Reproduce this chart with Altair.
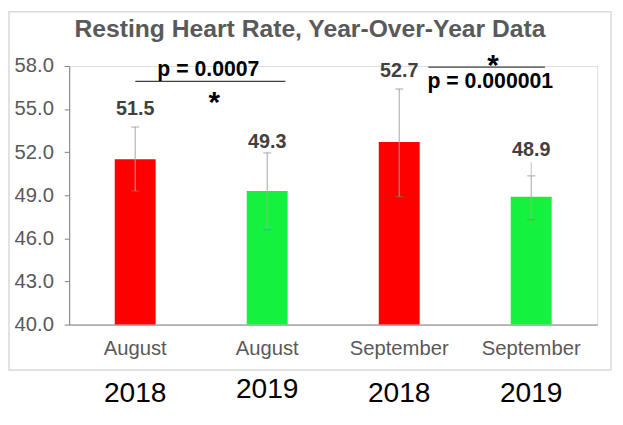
import altair as alt
import pandas as pd

# ---- data ----
categories = ["August 2018", "August 2019", "September 2018", "September 2019"]
months = ["August", "August", "September", "September"]
years = ["2018", "2019", "2018", "2019"]
means = [51.5, 49.3, 52.7, 48.9]
err_low = [49.3, 46.6, 48.9, 47.3]
err_high = [53.75, 51.95, 56.4, 50.35]
bar_colors = ["#FF0000", "#15F13F", "#FF0000", "#15F13F"]
value_label_y = [54.6, 52.3, 57.23, 51.73]
year_label_y = [35.2, 35.5, 35.2, 35.2]
y_ticks = [40, 43, 46, 49, 52, 55, 58]
y_min = 40

# leader line of the "48.9" label
leader_cat = ["September 2019"]
leader_from = [50.35]
leader_to = [51.3]

# significance annotations (x in category units, 0..4)
sig_x_start = [0.501, 2.721]
sig_x_end = [1.637, 3.604]
sig_line_y = [56.93, 57.92]
p_texts = ["p = 0.0007", "p = 0.000001"]
p_x = [1.054, 3.19]
p_y = [57.30, 56.50]
star_x = [1.099, 3.21]
star_y = [54.81, 57.40]

title_text = ["Resting Heart Rate, Year-Over-Year Data"]
title_x = [1.824]
title_y = [60.0]

FONT = "Liberation Sans"

df = pd.DataFrame({
    "cat": categories, "month": months, "year": years, "mean": means,
    "lo": err_low, "hi": err_high, "label_y": value_label_y, "year_y": year_label_y,
})
df_leader = pd.DataFrame({"cat": leader_cat, "a": leader_from, "b": leader_to})
df_sig = pd.DataFrame({"x1": sig_x_start, "x2": sig_x_end, "y": sig_line_y,
                       "ptext": p_texts, "px": p_x, "py": p_y,
                       "sx": star_x, "sy": star_y, "star": ["*", "*"]})
df_title = pd.DataFrame({"t": title_text, "x": title_x, "y": title_y})

yscale = alt.Scale(domain=[40, 58], nice=False, zero=False)
xscale = alt.Scale(domain=categories, paddingInner=0.69, paddingOuter=0.345)

x_axis = alt.Axis(title=None, labelExpr="split(datum.label, ' ')[0]", ticks=False,
                  labelAngle=0, labelFontSize=20.5, labelColor="#595959", labelFont=FONT,
                  labelPadding=14, domainColor="#7f7f7f", domainWidth=1)
x_enc = alt.X("cat:N", sort=categories, scale=xscale, axis=x_axis)
x_enc_plain = alt.X("cat:N", sort=categories, scale=xscale)

y_axis = alt.Axis(title=None, values=y_ticks, format=".1f", grid=False, tickSize=5,
                  tickColor="#7f7f7f", domainColor="#7f7f7f", labelFontSize=20.5,
                  labelColor="#595959", labelFont=FONT, labelPadding=11)

base = alt.Chart(df)

bars = base.mark_bar().encode(
    x=x_enc,
    y=alt.Y("mean:Q", scale=yscale, axis=y_axis),
    y2=alt.Y2(datum=y_min),
    color=alt.Color("cat:N", scale=alt.Scale(domain=categories, range=bar_colors), legend=None),
)
err = base.mark_rule(color="#a6a6a6", strokeWidth=1).encode(
    x=x_enc_plain, y=alt.Y("lo:Q", scale=yscale), y2="hi:Q")
cap_lo = base.mark_tick(color="#808080", thickness=1, size=8).encode(
    x=x_enc_plain, y=alt.Y("lo:Q", scale=yscale))
cap_hi = base.mark_tick(color="#808080", thickness=1, size=8).encode(
    x=x_enc_plain, y=alt.Y("hi:Q", scale=yscale))
vals = base.mark_text(font=FONT, fontSize=20, fontWeight="bold", color="#404040",
                      baseline="alphabetic").encode(
    x=x_enc_plain, y=alt.Y("label_y:Q", scale=yscale), text=alt.Text("mean:Q", format=".1f"))
yrs = base.mark_text(font=FONT, fontSize=28.5, color="#000000", baseline="middle").encode(
    x=x_enc_plain, y=alt.Y("year_y:Q", scale=yscale), text="year:N")
leader = alt.Chart(df_leader).mark_rule(color="#bfbfbf", strokeWidth=1).encode(
    x=x_enc_plain, y=alt.Y("a:Q", scale=yscale), y2="b:Q")

layer_a = alt.layer(bars, err, cap_lo, cap_hi, leader, vals, yrs)

xq = alt.Scale(domain=[0, 4], nice=False, zero=False)
sig = alt.Chart(df_sig)
sig_lines = sig.mark_rule(color="#404040", strokeWidth=1.2).encode(
    x=alt.X("x1:Q", scale=xq, axis=None), x2="x2:Q", y=alt.Y("y:Q", scale=yscale))
sig_p = sig.mark_text(font=FONT, fontSize=21.5, fontWeight="bold", color="#000000",
                      baseline="alphabetic").encode(
    x=alt.X("px:Q", scale=xq, axis=None), y=alt.Y("py:Q", scale=yscale), text="ptext:N")
sig_star = sig.mark_text(font=FONT, fontSize=30, fontWeight="bold", color="#000000",
                         baseline="alphabetic").encode(
    x=alt.X("sx:Q", scale=xq, axis=None), y=alt.Y("sy:Q", scale=yscale), text="star:N")
title = alt.Chart(df_title).mark_text(font=FONT, fontSize=25, fontWeight="bold",
                                      color="#595959", baseline="alphabetic").encode(
    x=alt.X("x:Q", scale=xq, axis=None), y=alt.Y("y:Q", scale=yscale), text="t:N")

border = alt.Chart(pd.DataFrame({"k": [0]})).mark_rect(
    filled=False, stroke="#d9d9d9", strokeWidth=1.5).encode(
    x=alt.value(-61), x2=alt.value(549), y=alt.value(-55), y2=alt.value(308))

layer_b = alt.layer(sig_lines, sig_p, sig_star, title, border)

chart = alt.layer(layer_a, layer_b).resolve_scale(x="independent").properties(
    width=535, height=262,
    autosize=alt.AutoSizeParams(type="none"),
    padding={"left": 62, "top": 56, "right": 18, "bottom": 99},
).configure_view(stroke=None).configure(background="#ffffff")

chart.save("out.html", embed_options={"renderer": "svg", "actions": False})
